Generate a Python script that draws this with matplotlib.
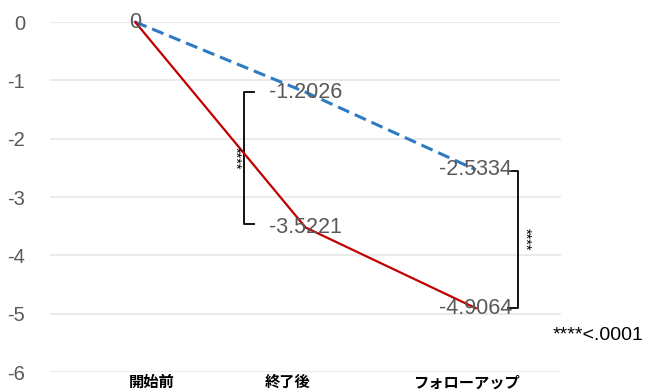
import matplotlib
matplotlib.use("Agg")
import matplotlib.pyplot as plt

# Data
categories = ["開始前", "終了後", "フォローアップ"]
control = [0, -1.2026, -2.5334]       # blue dashed series
treatment = [0, -3.5221, -4.9064]     # red solid series
yticks = [0, -1, -2, -3, -4, -5, -6]
sig_label = "****"
p_note = "****<.0001"

plt.rcParams['font.family'] = ['Liberation Sans', 'Noto Sans CJK JP', 'DejaVu Sans']

fig = plt.figure(figsize=(6.53, 3.91), dpi=100)
ax = fig.add_axes([50 / 653, 1 - 372 / 391, 511 / 653, 350 / 391])

x = list(range(len(categories)))

ax.plot(x, control, color="#2E7BC4", lw=2.2, dashes=(4, 2), clip_on=False, zorder=3)
ax.plot(x, treatment, color="#C00000", lw=1.6, clip_on=False, zorder=3)

# value labels centred on each point
label_color = "#595959"
ax.text(x[0], control[0], f"{control[0]:g}", ha="center", va="center",
        fontsize=15.5, color=label_color, zorder=4)
for xi, v in zip(x[1:], control[1:]):
    ax.text(xi, v, f"{v:.4f}", ha="center", va="center", fontsize=15.5,
            color=label_color, zorder=4)
for xi, v in zip(x[1:], treatment[1:]):
    ax.text(xi, v, f"{v:.4f}", ha="center", va="center", fontsize=15.5,
            color=label_color, zorder=4)

# significance brackets
def bracket(xv, y1, y2, serif_dx, star_x):
    ax.plot([xv + serif_dx, xv, xv, xv + serif_dx], [y1, y1, y2, y2],
            color="black", lw=1.3, clip_on=False, zorder=2)
    ax.text(star_x, (y1 + y2) / 2, sig_label, rotation=270, ha="center",
            va="center", fontsize=10.5, color="black")

bracket(0.638, control[1], treatment[1] + 0.06, 0.06, 0.585)
bracket(2.245, control[2] - 0.02, treatment[2], -0.055, 2.29)

ax.text(2.45, -5.37, p_note, ha="left", va="center", fontsize=14,
        color="black", clip_on=False)

ax.set_xlim(-0.5, 2.5)
ax.set_ylim(-6, 0)
ax.set_yticks(yticks)
ax.set_yticklabels([f"{t:g}" for t in yticks], fontsize=14.5, color=label_color)
ax.tick_params(axis="y", length=0, pad=18)

# category labels sit slightly off the point positions
label_pos = [0.094, 0.894, 1.947]
ax.set_xticks(label_pos)
ax.set_xticklabels(categories, fontsize=11, fontweight="bold",
                   family=['Noto Sans CJK JP', 'DejaVu Sans'])
ax.tick_params(axis="x", length=0, pad=1.5)

ax.grid(axis="y", color="#e8e8e8", lw=1.2)
ax.set_axisbelow(True)
for s in ax.spines.values():
    s.set_visible(False)

fig.savefig("out.png", dpi=100)
